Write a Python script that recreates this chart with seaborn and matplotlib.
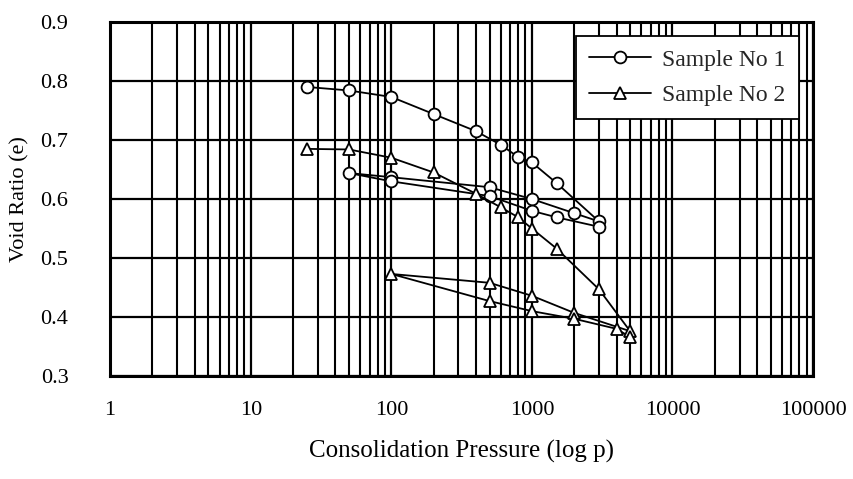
import matplotlib
matplotlib.use("Agg")
import matplotlib.pyplot as plt
import matplotlib.ticker as mticker
import seaborn as sns
import pandas as pd
import numpy as np

# Sample No 1 (circles): loading, then unload/reload loop
s1_p = [25, 50, 100, 200, 400, 600, 800, 1000, 1500, 3000,
        2000, 1000, 500, 100, 50, 100, 500, 1000, 1500, 3000]
s1_e = [0.790, 0.784, 0.773, 0.744, 0.715, 0.692, 0.671, 0.662, 0.627, 0.562,
        0.576, 0.600, 0.620, 0.637, 0.644, 0.630, 0.605, 0.580, 0.569, 0.553]

# Sample No 2 (triangles)
s2_p = [25, 50, 100, 200, 400, 600, 800, 1000, 1500, 3000, 5000,
        2000, 1000, 500, 100, 500, 1000, 2000, 4000, 5000]
s2_e = [0.685, 0.684, 0.670, 0.645, 0.609, 0.586, 0.569, 0.550, 0.516, 0.447, 0.376,
        0.407, 0.436, 0.458, 0.473, 0.427, 0.410, 0.397, 0.380, 0.366]

labels = ["Sample No 1", "Sample No 2"]
x_ticks = [1, 10, 100, 1000, 10000, 100000]
x_ticklabels = ["1", "10", "100", "1000", "10000", "100000"]
y_ticks = [0.3, 0.4, 0.5, 0.6, 0.7, 0.8, 0.9]

sns.set_theme(style="white")
plt.rcParams["font.family"] = ["Liberation Serif", "DejaVu Serif"]

fig = plt.figure(figsize=(8.54, 4.79), dpi=100)
ax = fig.add_axes([0.129, 0.215, 0.823, 0.739])

df1 = pd.DataFrame({"p": s1_p, "e": s1_e})
df2 = pd.DataFrame({"p": s2_p, "e": s2_e})

sns.lineplot(data=df1, x="p", y="e", sort=False, estimator=None, ax=ax,
             color="black", linewidth=1.3, marker="o", markersize=8.5,
             markerfacecolor="white", markeredgecolor="black", markeredgewidth=1.3,
             label=labels[0], zorder=5)
sns.lineplot(data=df2, x="p", y="e", sort=False, estimator=None, ax=ax,
             color="black", linewidth=1.3, marker="^", markersize=9,
             markerfacecolor="white", markeredgecolor="black", markeredgewidth=1.3,
             label=labels[1], zorder=5)

ax.set_xscale("log")
ax.set_xlim(1, 100000)
ax.set_ylim(0.3, 0.9)
ax.set_xticks(x_ticks)
ax.set_xticklabels(x_ticklabels)
ax.xaxis.set_minor_locator(mticker.LogLocator(base=10, subs=np.arange(2, 10)))
ax.xaxis.set_minor_formatter(mticker.NullFormatter())
ax.set_yticks(y_ticks)
ax.yaxis.set_major_formatter(mticker.FormatStrFormatter("%.1f"))

ax.grid(True, which="major", axis="both", color="black", linewidth=1.6)
ax.grid(True, which="minor", axis="x", color="black", linewidth=1.5)
ax.set_axisbelow(True)

for s in ax.spines.values():
    s.set_visible(True)
    s.set_color("black")
    s.set_linewidth(2.2)

ax.tick_params(axis="x", which="both", direction="in", length=0, labelsize=16,
               colors="black", pad=18)
ax.tick_params(axis="y", which="both", direction="in", length=0, labelsize=16,
               colors="black", pad=30)

ax.set_xlabel("Consolidation Pressure (log p)", fontsize=18, color="black", labelpad=14)
ax.set_ylabel("Void Ratio (e)", fontsize=16, color="black", labelpad=8)

leg = ax.legend(loc="upper right", fontsize=17, frameon=True, fancybox=False,
                edgecolor="black", framealpha=1, borderpad=0.55, handlelength=2.6,
                handletextpad=0.5, borderaxespad=0.6, labelspacing=0.6)
leg.get_frame().set_linewidth(1.3)

fig.savefig("out.png", dpi=100, facecolor="white")
